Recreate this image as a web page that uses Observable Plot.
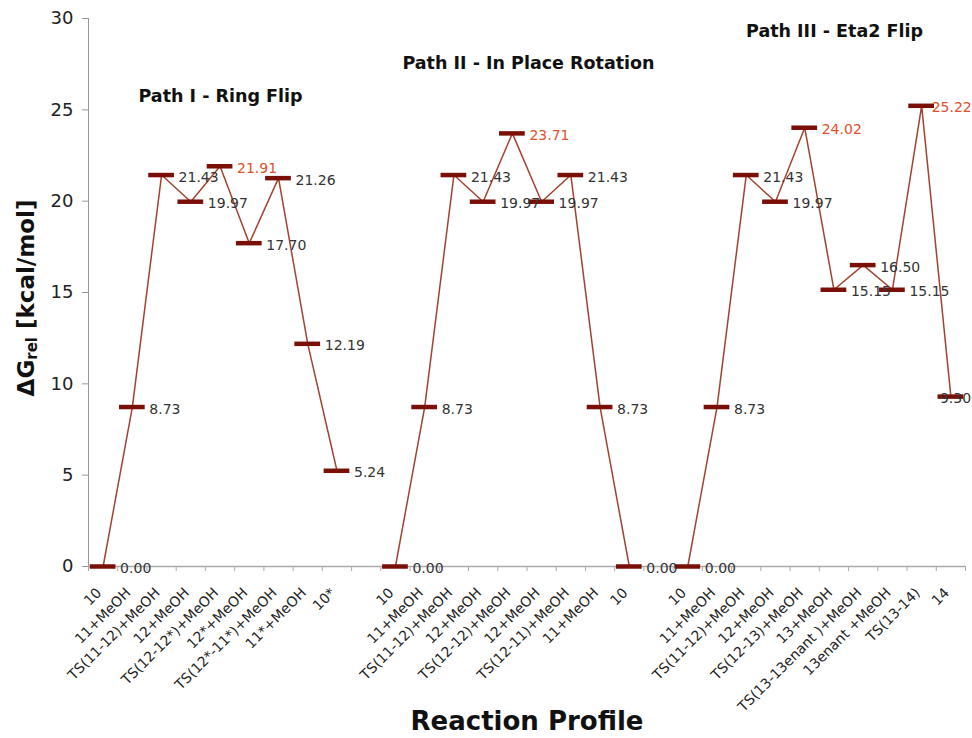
<!DOCTYPE html>
<html>
<head>
<meta charset="utf-8">
<script src="https://cdn.jsdelivr.net/npm/d3@7"></script>
<script src="https://cdn.jsdelivr.net/npm/@observablehq/plot@0.6"></script>
<style>
  html, body { margin: 0; padding: 0; background: #fff; }
  #chart svg { display: block; font-family: "DejaVu Sans", Verdana, sans-serif; }
</style>
</head>
<body>
<div id="chart"></div>
<script>
// ---- data ----
const pathILabels = ["10", "11+MeOH", "TS(11-12)+MeOH", "12+MeOH", "TS(12-12*)+MeOH", "12*+MeOH", "TS(12*-11*)+MeOH", "11*+MeOH", "10*"];
const pathIValues = [0.00, 8.73, 21.43, 19.97, 21.91, 17.70, 21.26, 12.19, 5.24];
const pathIILabels = ["10", "11+MeOH", "TS(11-12)+MeOH", "12+MeOH", "TS(12-12)+MeOH", "12+MeOH", "TS(12-11)+MeOH", "11+MeOH", "10"];
const pathIIValues = [0.00, 8.73, 21.43, 19.97, 23.71, 19.97, 21.43, 8.73, 0.00];
const pathIIILabels = ["10", "11+MeOH", "TS(11-12)+MeOH", "12+MeOH", "TS(12-13)+MeOH", "13+MeOH", "TS(13-13enant )+MeOH", "13enant +MeOH", "TS(13-14)", "14"];
const pathIIIValues = [0.00, 8.73, 21.43, 19.97, 24.02, 15.15, 16.50, 15.15, 25.22, 9.30];
const highlighted = ["TS(12-12*)+MeOH", "TS(12-12)+MeOH", "TS(12-13)+MeOH", "TS(13-14)"];
const pathTitles = ["Path I - Ring Flip", "Path II - In Place Rotation", "Path III - Eta2 Flip"];
const yTicks = [0, 5, 10, 15, 20, 25, 30];

// ---- build slots (one empty category between paths) ----
const paths = [
  {name: pathTitles[0], labels: pathILabels, values: pathIValues},
  {name: pathTitles[1], labels: pathIILabels, values: pathIIValues},
  {name: pathTitles[2], labels: pathIIILabels, values: pathIIIValues}
];
const slotLabels = [];
const points = [];
paths.forEach((p, pi) => {
  if (pi > 0) slotLabels.push("");
  p.labels.forEach((lab, i) => {
    const slot = slotLabels.length;
    slotLabels.push(lab);
    points.push({slot, x: slot + 0.5, y: p.values[i], path: p.name, label: lab,
                 hi: highlighted.includes(lab)});
  });
});
const nSlots = slotLabels.length;
const centers = d3.range(nSlots).filter(i => slotLabels[i] !== "").map(i => i + 0.5);
const lastSlot = nSlots - 1;

const markerColor = "#7a0f08";
const lineColor = "#a2432f";
const hiColor = "#e0502c";
const txtColor = "#333";

const normalPts = points.filter(d => d.slot < lastSlot - 1);

const chart = Plot.plot({
  width: 972,
  height: 738,
  marginLeft: 88,
  marginRight: 7,
  marginTop: 18,
  marginBottom: 172,
  style: {fontFamily: "DejaVu Sans, Verdana, sans-serif", background: "#fff"},
  x: {type: "linear", domain: [0, nSlots]},
  y: {domain: [0, 30]},
  marks: [
    Plot.axisY({ticks: yTicks, tickSize: 6, tickPadding: 9, fontSize: 18, stroke: "#999", color: "#222", label: null}),
    Plot.ruleX([0], {stroke: "#999"}),
    Plot.axisX({ticks: d3.range(nSlots + 1), tickFormat: () => "", tickSize: 5, stroke: "#aaa", label: null}),
    Plot.axisX({ticks: centers, tickFormat: d => slotLabels[Math.floor(d)], tickRotate: -45, tickSize: 0,
                tickPadding: 17, dx: -4, dy: 7, fontSize: 14, color: "#222", label: null}),
    Plot.ruleY([0], {stroke: "#aaa", strokeWidth: 1.5}),
    Plot.line(points, {x: "x", y: "y", z: "path", stroke: lineColor, strokeWidth: 1.5}),
    Plot.ruleY(points, {y: "y", x1: d => d.x - 0.44, x2: d => d.x + 0.44, stroke: markerColor, strokeWidth: 4.5}),
    Plot.text(normalPts, {x: "x", y: "y", text: d => d.y.toFixed(2), textAnchor: "start", dx: 17, dy: 2,
                          fontSize: 14, fill: d => d.hi ? hiColor : txtColor}),
    Plot.text(points.filter(d => d.slot === lastSlot - 1), {x: "x", y: "y", text: d => d.y.toFixed(2), textAnchor: "start", dx: 10, dy: 2,
                          fontSize: 14, fill: d => d.hi ? hiColor : txtColor}),
    Plot.text(points.filter(d => d.slot === lastSlot), {x: "x", y: "y", text: d => d.y.toFixed(2), textAnchor: "start", dx: -11, dy: 2,
                          fontSize: 14, fill: d => d.hi ? hiColor : txtColor}),
    Plot.text([pathTitles[0]], {frameAnchor: "top-left", textAnchor: "middle", dx: 132, dy: 71, text: d => d, fontSize: 17.5, fontWeight: "bold", fill: "#111"}),
    Plot.text([pathTitles[1]], {frameAnchor: "top-left", textAnchor: "middle", dx: 440, dy: 38, text: d => d, fontSize: 17.5, fontWeight: "bold", fill: "#111"}),
    Plot.text([pathTitles[2]], {frameAnchor: "top-left", textAnchor: "middle", dx: 746, dy: 6, text: d => d, fontSize: 17.5, fontWeight: "bold", fill: "#111"}),
    Plot.text(["Reaction Profile"], {frameAnchor: "bottom", dy: 163, text: d => d, fontSize: 26, fontWeight: "bold", fill: "#111"})
  ]
});

// y-axis title with subscript
const svg = d3.select(chart);
const yt = svg.append("text")
  .attr("transform", "translate(27,298) rotate(-90)")
  .attr("text-anchor", "middle")
  .attr("dominant-baseline", "middle")
  .attr("font-family", "DejaVu Sans, Verdana, sans-serif")
  .attr("font-weight", "bold")
  .attr("font-size", 23)
  .attr("fill", "#111");
yt.append("tspan").text("ΔG");
yt.append("tspan").attr("font-size", 15).attr("dy", 5).text("rel");
yt.append("tspan").attr("dy", -5).text(" [kcal/mol]");

document.getElementById("chart").append(chart);
</script>
</body>
</html>
